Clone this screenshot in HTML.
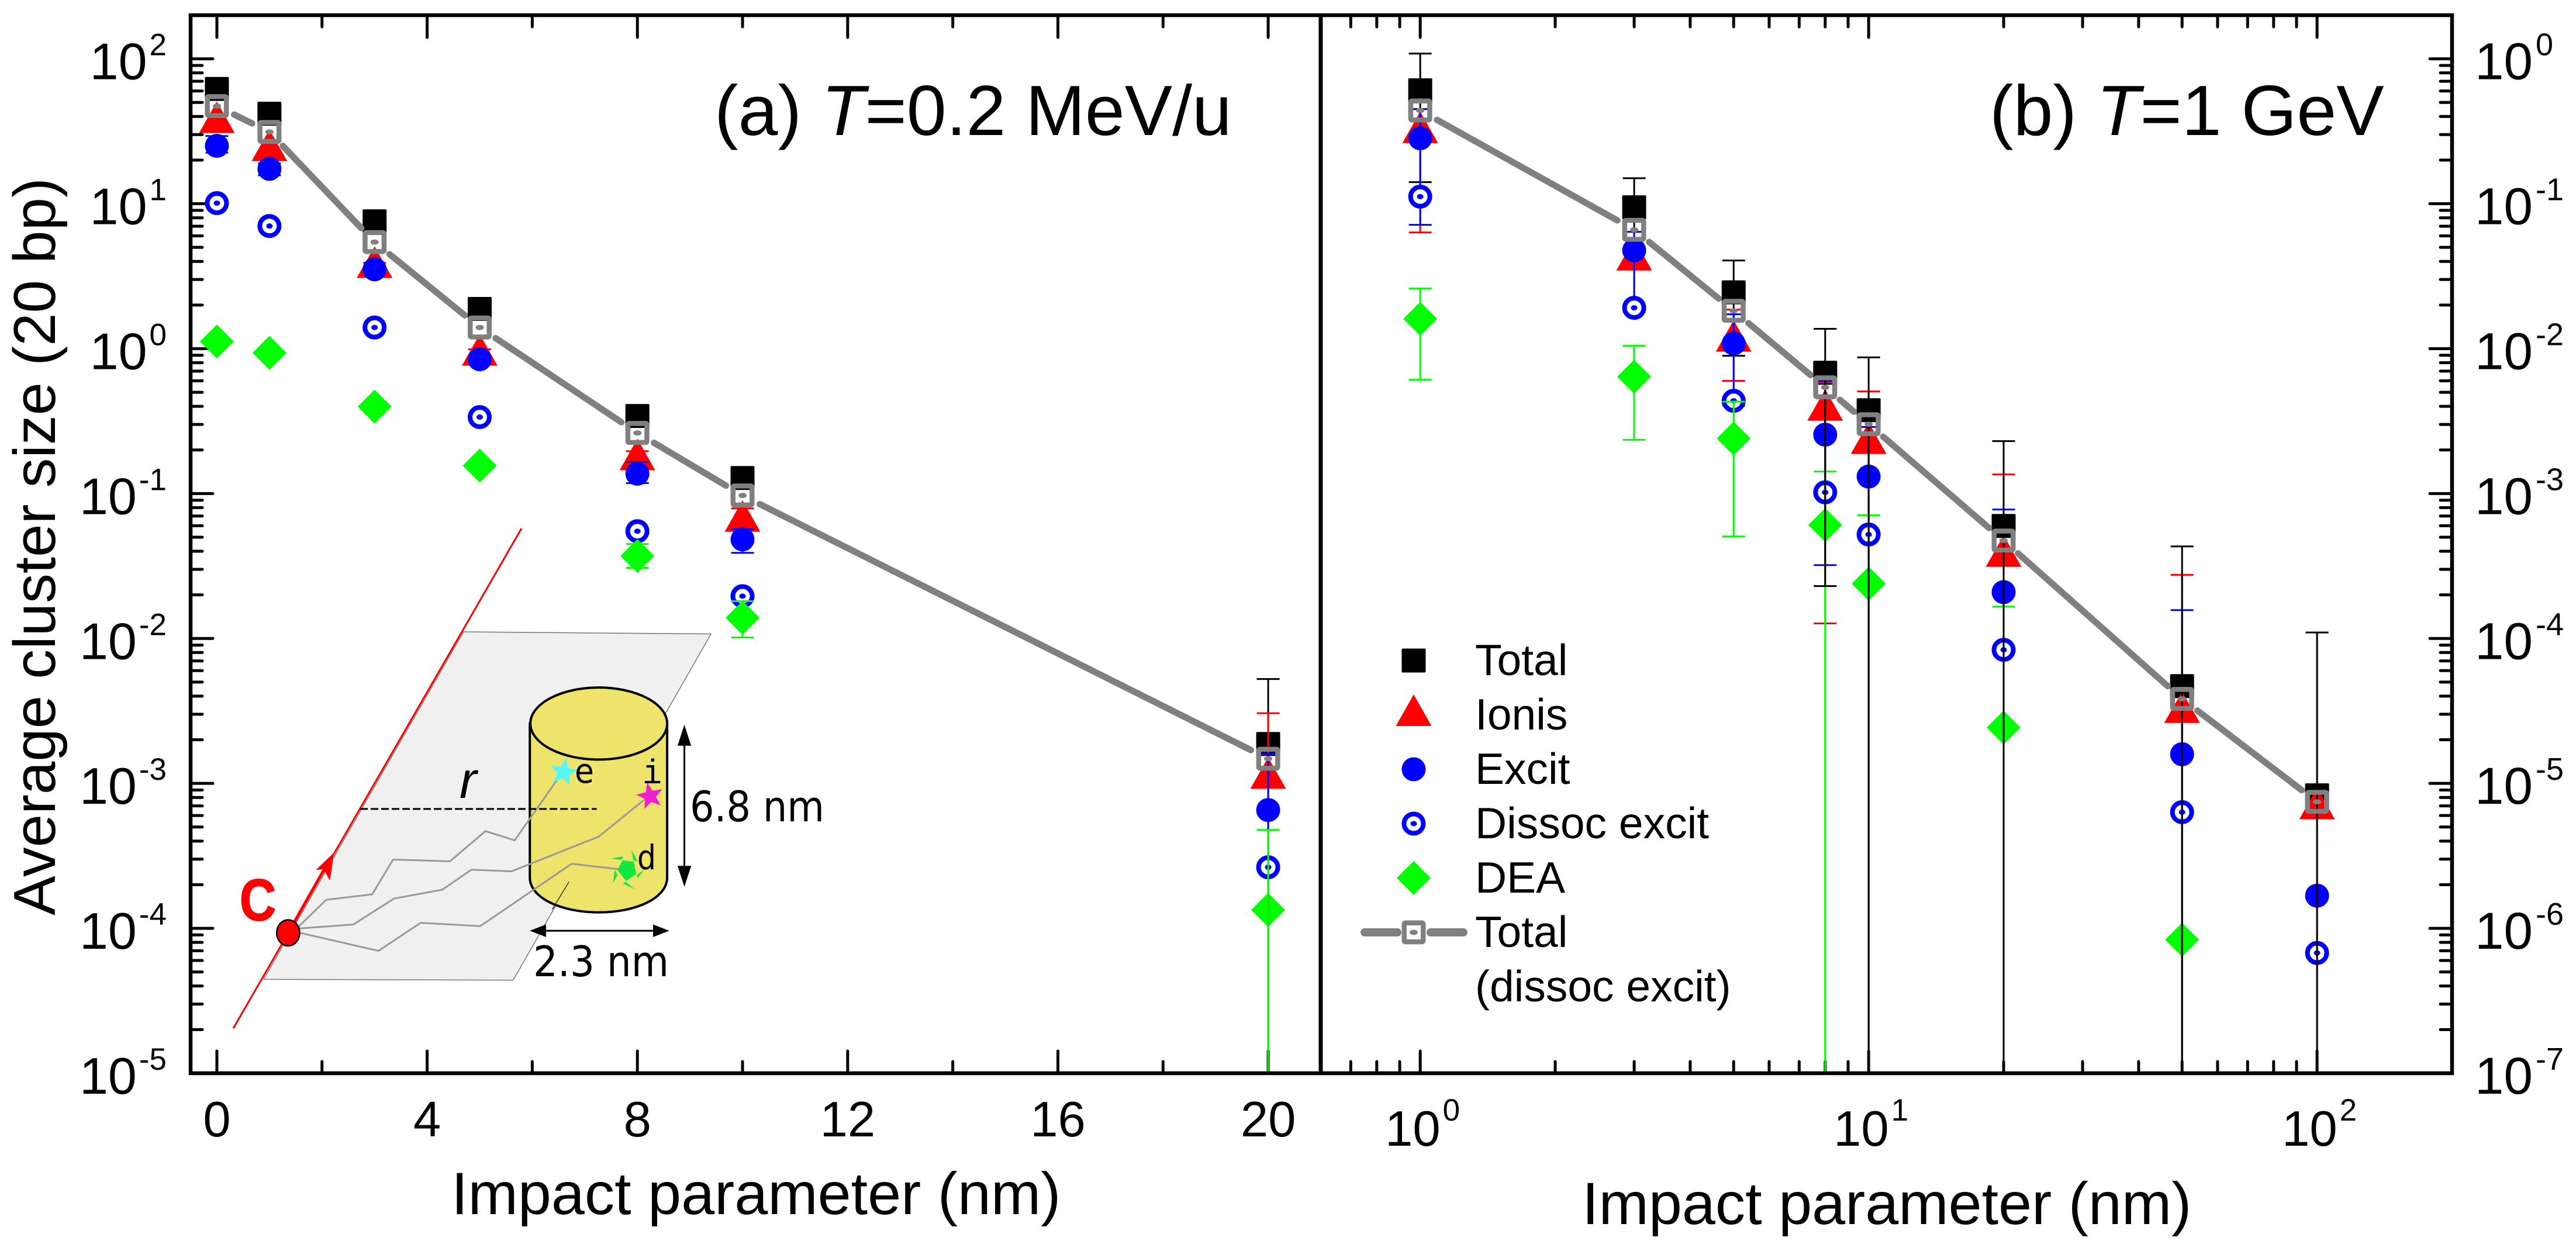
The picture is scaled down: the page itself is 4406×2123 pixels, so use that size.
<!DOCTYPE html>
<html lang="en">
<head>
<meta charset="utf-8">
<title>Average cluster size vs impact parameter</title>
<style>
html,body{margin:0;padding:0;background:#fff;}
svg{display:block;}
text{font-family:"Liberation Sans",Arial,sans-serif;fill:#000;}
.ins *{vector-effect:non-scaling-stroke;}
.dv{font-family:"DejaVu Sans","Liberation Sans",sans-serif;}
</style>
</head>
<body>
<svg id="chart" xmlns="http://www.w3.org/2000/svg" width="4406" height="2123" viewBox="0 0 4406 2123">
  <rect x="0" y="0" width="4406" height="2123" fill="#ffffff"/>

  <!-- Inset schematic -->
  <g>
    <g class="ins" transform="translate(0 1000) scale(0.89286 0.71618)">
      <polygon points="888,113 1362,118 983,945 505,943" fill="#f0f0f0" stroke="#777" stroke-width="1.5"/>
      <line x1="447" y1="1060" x2="999" y2="-134" stroke="#ff0000" stroke-width="3"/>
      <path d="M1015,332 V700 C1015,748 1074,783 1147,783 C1220,783 1278,748 1278,700 V332 Z" fill="#eee46b" stroke="#000" stroke-width="4"/>
      <ellipse cx="1147" cy="332" rx="131" ry="86" fill="#eee46b" stroke="#000" stroke-width="4"/>
      <line x1="1090" y1="710" x2="1058" y2="776" stroke="#333" stroke-width="1.5"/>
      <polyline points="568,822 625,753 713,740 753,657 862,661 930,589 986,611 1078,447" fill="none" stroke="#999" stroke-width="3"/>
      <polyline points="568,822 677,812 755,750 847,729 903,681 980,685 1147,602 1243,505" fill="none" stroke="#999" stroke-width="3"/>
      <polyline points="568,830 725,875 806,808 920,816 1095,667 1200,682" fill="none" stroke="#999" stroke-width="3"/>
      <line x1="690" y1="536" x2="1143" y2="536" stroke="#000" stroke-width="3" stroke-dasharray="13 5"/>
      <line x1="552" y1="832" x2="628" y2="665" stroke="#ff0000" stroke-width="5"/>
      <polygon points="640,640 605,682 620,680 632,707" fill="#ff0000"/>
      <ellipse cx="552" cy="832" rx="22" ry="31" fill="#ff0000" stroke="#000" stroke-width="2.5"/>
      <line x1="1311" y1="360" x2="1311" y2="700" stroke="#000" stroke-width="3"/>
      <polygon points="1311,335 1298,385 1324,385" fill="#000"/>
      <polygon points="1311,722 1298,672 1324,672" fill="#000"/>
      <line x1="1035" y1="827" x2="1262" y2="827" stroke="#000" stroke-width="3"/>
      <polygon points="1015,827 1046,812 1046,842" fill="#000"/>
      <polygon points="1282,827 1251,812 1251,842" fill="#000"/>
    </g>
    <polygon transform="translate(964 1321) rotate(10) scale(25)" points="0,-1 .247,-.34 .951,-.309 .4,.13 .588,.809 0,.42 -.588,.809 -.4,.13 -.951,-.309 -.247,-.34" fill="#55f8f8"/>
    <polygon transform="translate(1112 1362) rotate(-12) scale(24)" points="0,-1 .247,-.34 .951,-.309 .4,.13 .588,.809 0,.42 -.588,.809 -.4,.13 -.951,-.309 -.247,-.34" fill="#f020d0"/>
    <g fill="#10e840">
      <polygon points="1065,1471.7 1084,1474 1088.3,1495 1071,1507.3 1056,1488.3"/>
      <polygon points="1080,1454 1090.7,1474 1083.3,1471.7"/>
      <polygon points="1066,1465 1045,1469 1063.3,1471"/>
      <polygon points="1051.7,1488.3 1048.3,1511.7 1056,1496.7"/>
      <polygon points="1070,1508.3 1085,1520.7 1065.7,1511.7"/>
      <polygon points="1089.3,1496.7 1090,1502.7 1102.7,1487.3"/>
    </g>
    <text x="410" y="1574" font-size="100" font-weight="bold" style="fill:#ff0000;stroke:#ff0000;stroke-width:2" textLength="62" lengthAdjust="spacingAndGlyphs">C</text>
    <text x="786" y="1365" font-size="88" font-style="italic">r</text>
    <text class="dv" x="983" y="1339" font-size="58" textLength="33" lengthAdjust="spacingAndGlyphs">e</text>
    <text font-family="Liberation Mono" x="1099" y="1340" font-size="58" style="font-family:'Liberation Mono',monospace" textLength="33" lengthAdjust="spacingAndGlyphs">i</text>
    <text class="dv" x="1090" y="1487" font-size="58" textLength="32" lengthAdjust="spacingAndGlyphs">d</text>
    <text class="dv" x="1180" y="1405" font-size="72" textLength="230" lengthAdjust="spacingAndGlyphs">6.8 nm</text>
    <text class="dv" x="912" y="1670" font-size="72" textLength="232" lengthAdjust="spacingAndGlyphs">2.3 nm</text>
  </g>

  <g id="axes"></g>
  <g id="plots"></g>

  <g id="frame" fill="none" stroke="#000" stroke-width="6.5">
    <rect x="326" y="26" width="3868" height="1810"/>
    <line x1="2259" y1="26" x2="2259" y2="1836" stroke-width="7"/>
  </g>

  <text x="1222" y="231" font-size="122">(a) <tspan font-style="italic">T</tspan>=0.2 MeV/u</text>
  <text x="3403" y="231" font-size="122">(b) <tspan font-style="italic">T</tspan>=1 GeV</text>
  <text transform="translate(94 1566) rotate(-90)" font-size="101.5">Average cluster size (20 bp)</text>
  <text x="772" y="2077" font-size="102.5">Impact parameter (nm)</text>
  <text x="2706" y="2094" font-size="102.5">Impact parameter (nm)</text>

  <g id="legend"></g>
</svg>

<script>
// ---------- Data: panel (a) ----------
const leftImpact = [0, 1, 3, 5, 8, 10, 20];
const leftTotal = [62.0, 41.8, 7.56, 1.88, 0.343, 0.128, 1.87e-3];
const leftIonis = [39.5, 25.3, 3.95, 0.98, 0.186, 0.070, 1.18e-3];
const leftExcit = [25.1, 17.4, 3.53, 0.845, 0.137, 0.0483, 6.55e-4];
const leftDissoc = [10.1, 7.02, 1.40, 0.337, 0.055, 0.0196, 2.64e-4];
const leftDEA = [1.12, 0.935, 0.398, 0.156, 0.0371, 0.0139, 1.34e-4];
const leftTotalDissoc = [47.2, 31.3, 5.44, 1.40, 0.262, 0.097, 1.48e-3];

const leftTotalHi = [null, null, null, null, null, null, 5.25e-3];
const leftTotalLo = [null, null, null, null, null, null, 1e-9];
const leftIonisHi = [null, null, 3.91, 0.99, 0.196, 0.079, 3.05e-3];
const leftIonisLo = [null, null, 3.25, 0.79, 0.16, 0.06, 1e-9];
const leftExcitHi = [29.3, 19, null, null, 0.165, 0.0568, 1.6e-3];
const leftExcitLo = [22.5, 15.7, null, null, 0.118, 0.039, 1e-9];
const leftDEAHi = [null, null, null, null, 0.0449, 0.0181, 4.78e-4];
const leftDEALo = [null, null, null, null, 0.0307, 0.01016, 1e-9];

// ---------- Data: panel (b) ----------
const rightImpact = [1, 3, 5, 8, 10, 20, 50, 100];
const rightTotal = [0.606, 0.0945, 0.02446, 6.82e-3, 3.76e-3, 5.98e-4, 4.69e-5, 8.27e-6];
const rightIonis = [0.337, 0.0445, 0.01225, 4.09e-3, 2.41e-3, 4.01e-4, 3.36e-5, 7.26e-6];
const rightExcit = [0.283, 0.0477, 0.01085, 2.55e-3, 1.31e-3, 2.09e-4, 1.59e-5, 1.68e-6];
const rightDissoc = [0.112, 0.01913, 4.37e-3, 1.02e-3, 5.22e-4, 8.35e-5, 6.33e-6, 6.76e-7];
const rightDEA = [0.01606, 6.41e-3, 2.40e-3, 6.06e-4, 2.39e-4, 2.43e-5, 8.34e-7, null];
const rightTotalDissoc = [0.44, 0.0661, 0.01826, 5.41e-3, 3.01e-3, 4.74e-4, 3.83e-5, 7.46e-6];

const rightTotalHi = [1.087, 0.150, 0.0406, 0.0137, 8.71e-3, 2.30e-3, 4.32e-4, 1.10e-4];
const rightTotalLo = [0.1409, 0.04, 8.93e-3, 2.30e-4, 1e-9, 1e-9, 1e-9, 1e-9];
const rightIonisHi = [0.45, 0.064, 0.0186, 5.83e-3, 5.07e-3, 1.355e-3, 2.75e-4, 1.10e-4];
const rightIonisLo = [0.0634, 0.0179, 0.006, 1.27e-4, 1e-9, 1e-9, 1e-9, 1e-9];
const rightExcitHi = [0.45, 0.064, 0.01727, 5.99e-3, 2.88e-3, 7.76e-4, 1.57e-4, null];
const rightExcitLo = [0.0715, 0.0181, 4.05e-3, 3.21e-4, 1e-9, 1e-9, 1e-9, null];
const rightDEAHi = [0.026, 0.01046, 4.31e-3, 1.42e-3, 7.09e-4, 1.66e-4, null, null];
const rightDEALo = [6.1e-3, 2.35e-3, 5.06e-4, 1e-9, 1e-9, null, null, null];

// ---------- Tick values ----------
const leftXMajor = [0, 4, 8, 12, 16, 20];
const leftXMinor = [2, 6, 10, 14, 18];
const leftXLabels = ['0', '4', '8', '12', '16', '20'];
const rightXDecades = [0, 1, 2];
const rightXMinorBelowOne = [0.7, 0.8, 0.9];
const leftYDecades = [2, 1, 0, -1, -2, -3, -4, -5];
const rightYDecades = [0, -1, -2, -3, -4, -5, -6, -7];
const legendLabels = ['Total', 'Ionis', 'Excit', 'Dissoc excit', 'DEA', 'Total'];

// ---------- Scales ----------
const TOP = 26, BOTTOM = 1836, LEFT = 326, MID = 2259, RIGHT = 4194;
function linearScale(d0, d1, r0, r1) { return function (v) { return r0 + (v - d0) / (d1 - d0) * (r1 - r0); }; }
function logScale(d0, d1, r0, r1) { return function (v) { return r0 + (Math.log10(v) - Math.log10(d0)) / (Math.log10(d1) - Math.log10(d0)) * (r1 - r0); }; }
const xLeft = linearScale(-0.5, 21, LEFT, MID);
const xRight = logScale(0.6, 200, MID, RIGHT);
const yLeft = logScale(1e-5, 200, BOTTOM, TOP);
const yRight = logScale(1e-7, 2, BOTTOM, TOP);

const SVGNS = 'http://www.w3.org/2000/svg';
function add(parent, tag, attrs) {
  const el = document.createElementNS(SVGNS, tag);
  for (const k in attrs) el.setAttribute(k, attrs[k]);
  parent.appendChild(el);
  return el;
}

// ---------- Marker shapes ----------
function drawSquare(p, cx, cy) {
  const el = add(p, 'rect', { x: cx - 20.5, y: cy - 20.5, width: 41, height: 41, rx: 2, fill: '#000' });
  
  
}
function drawTriangle(p, cx, cy) {
  const el = add(p, 'polygon', { points: (cx) + ',' + (cy - 27) + ' ' + (cx + 30.5) + ',' + (cy + 27) + ' ' + (cx - 30.5) + ',' + (cy + 27), fill: '#ff0000' });
  
  
}
function drawCircle(p, cx, cy) {
  const el = add(p, 'circle', { cx: cx, cy: cy, r: 20.5, fill: '#0000ff' });
  
  
}
function drawRing(p, cx, cy) {
  const el = add(p, 'circle', { cx: cx, cy: cy, r: 16.5, fill: '#fff', stroke: '#0000ff', 'stroke-width': 8 });
  
  
  const dot = add(p, 'ellipse', { cx: cx, cy: cy, rx: 5.5, ry: 4.5, fill: '#0000ff' });
  
  
}
function drawDiamond(p, cx, cy) {
  const el = add(p, 'polygon', { points: cx + ',' + (cy - 29) + ' ' + (cx + 29) + ',' + cy + ' ' + cx + ',' + (cy + 29) + ' ' + (cx - 29) + ',' + cy, fill: '#00ff00' });
  
  
}
function drawOpenSquare(p, cx, cy) {
  const el = add(p, 'rect', { x: cx - 16.25, y: cy - 16.25, width: 32.5, height: 32.5, rx: 2, fill: 'none', stroke: '#808080', 'stroke-width': 8.5 });
  
  
  const dot = add(p, 'ellipse', { cx: cx, cy: cy, rx: 7, ry: 4.5, fill: '#808080' });
  
  
}

// ---------- Error bars ----------
function drawError(p, x, y, hi, lo, color) {
  const cx = x;
  const yHi = hi === null ? null : y(hi);
  const yLo = lo === null ? null : y(lo);
  const top = yHi === null ? null : yHi;
  const bot = yLo === null ? null : Math.min(yLo, BOTTOM);
  if (top === null && bot === null) return;
  const stem = add(p, 'line', { x1: cx, x2: cx, y1: top === null ? bot : top, y2: bot === null ? top : bot, stroke: color, 'stroke-width': 3 });
  
  
  if (top !== null) {
    const capT = add(p, 'line', { x1: cx - 19.5, x2: cx + 19.5, y1: top, y2: top, stroke: color, 'stroke-width': 3 });
    
    
  }
  if (yLo !== null && yLo < BOTTOM) {
    const capB = add(p, 'line', { x1: cx - 19.5, x2: cx + 19.5, y1: yLo, y2: yLo, stroke: color, 'stroke-width': 3 });
    
    
  }
}

// ---------- Panels ----------
function drawPanel(name, xs, xScale, yScale, series, frontOrder, lineValues) {
  const root = document.getElementById('plots');
  const g = add(root, 'g', {});
  
  
  const front = [];
  series.forEach(function (s) {
    xs.forEach(function (xv, i) {
      const v = s.values[i];
      if (v === null) return;
      const hi = s.hi ? s.hi[i] : null;
      const lo = s.lo ? s.lo[i] : null;
      const isFront = lo !== null && Math.log10(v / lo) > 1;
      if (isFront) { front.push({ key: s.key, x: xScale(xv), hi: hi, lo: lo, color: s.color }); return; }
      drawError(g, xScale(xv), yScale, hi, lo, s.color);
    });
    xs.forEach(function (xv, i) {
      const v = s.values[i];
      if (v === null) return;
      s.draw(g, xScale(xv), yScale(v));
    });
  });
  frontOrder.forEach(function (key) {
    front.filter(function (f) { return f.key === key; }).forEach(function (f) {
      drawError(g, f.x, yScale, f.hi, f.lo, f.color);
    });
  });
  for (let i = 0; i < xs.length - 1; i++) {
    const x0 = xScale(xs[i]), y0 = yScale(lineValues[i]);
    const x1 = xScale(xs[i + 1]), y1 = yScale(lineValues[i + 1]);
    const len = Math.hypot(x1 - x0, y1 - y0), gap = 33;
    if (len <= 2 * gap) continue;
    const ux = (x1 - x0) / len, uy = (y1 - y0) / len;
    const seg = add(g, 'line', { x1: x0 + ux * gap, y1: y0 + uy * gap, x2: x1 - ux * gap, y2: y1 - uy * gap, stroke: '#808080', 'stroke-width': 11, 'stroke-linecap': 'round' });
    
    
  }
  xs.forEach(function (xv, i) { drawOpenSquare(g, xScale(xv), yScale(lineValues[i])); });
}

drawPanel('panel-a', leftImpact, xLeft, yLeft, [
  { key: 'total', values: leftTotal, hi: leftTotalHi, lo: leftTotalLo, color: '#000', draw: drawSquare },
  { key: 'ionis', values: leftIonis, hi: leftIonisHi, lo: leftIonisLo, color: '#ff0000', draw: drawTriangle },
  { key: 'excit', values: leftExcit, hi: leftExcitHi, lo: leftExcitLo, color: '#0000ff', draw: drawCircle },
  { key: 'dissoc', values: leftDissoc, hi: null, lo: null, color: '#0000ff', draw: drawRing },
  { key: 'dea', values: leftDEA, hi: leftDEAHi, lo: leftDEALo, color: '#00ff00', draw: drawDiamond }
], ['total', 'ionis', 'excit', 'dea'], leftTotalDissoc);

drawPanel('panel-b', rightImpact, xRight, yRight, [
  { key: 'total', values: rightTotal, hi: rightTotalHi, lo: rightTotalLo, color: '#000', draw: drawSquare },
  { key: 'ionis', values: rightIonis, hi: rightIonisHi, lo: rightIonisLo, color: '#ff0000', draw: drawTriangle },
  { key: 'excit', values: rightExcit, hi: rightExcitHi, lo: rightExcitLo, color: '#0000ff', draw: drawCircle },
  { key: 'dissoc', values: rightDissoc, hi: null, lo: null, color: '#0000ff', draw: drawRing },
  { key: 'dea', values: rightDEA, hi: rightDEAHi, lo: rightDEALo, color: '#00ff00', draw: drawDiamond }
], ['ionis', 'excit', 'dea', 'total'], rightTotalDissoc);

// ---------- Axes ----------
const axesG = document.getElementById('axes');
const MAJOR = 38, MINOR = 20;
function xTick(x, len) {
  [[BOTTOM, BOTTOM - len], [TOP, TOP + len]].forEach(function (pair) {
    const t = add(axesG, 'line', { x1: x, x2: x, y1: pair[0], y2: pair[1], stroke: '#000', 'stroke-width': 5, 'stroke-linecap': 'round' });
    
    
  });
}
function yTick(x0, dir, y, len) {
  const t = add(axesG, 'line', { x1: x0, x2: x0 + dir * len, y1: y, y2: y, stroke: '#000', 'stroke-width': 5, 'stroke-linecap': 'round' });
  
  
}
function powerLabel(x, y, exp, anchor, size, supSize, rise, gap) {
  const t = add(axesG, 'text', { x: x, y: y, 'font-size': size, 'text-anchor': anchor });
  
  
  t.appendChild(document.createTextNode('10'));
  const s = add(t, 'tspan', { dy: -rise, 'font-size': supSize, dx: gap });
  s.textContent = String(exp);
}

leftXMajor.forEach(function (v, i) {
  xTick(xLeft(v), MAJOR);
  const t = add(axesG, 'text', { x: xLeft(v), y: 1944, 'font-size': 85, 'text-anchor': 'middle' });
  
  
  t.textContent = leftXLabels[i];
});
leftXMinor.forEach(function (v) { xTick(xLeft(v), MINOR); });

rightXMinorBelowOne.forEach(function (v) { xTick(xRight(v), MINOR); });
rightXDecades.forEach(function (e) {
  const base = Math.pow(10, e);
  xTick(xRight(base), MAJOR);
  if (e < 2) for (let m = 2; m <= 9; m++) xTick(xRight(m * base), MINOR);
  powerLabel(xRight(base) + 4, 1960, e, 'middle', 85, 53, 43, 4);
});

leftYDecades.forEach(function (e) {
  const base = Math.pow(10, e);
  yTick(LEFT, 1, yLeft(base), MAJOR);
  if (e < 2) for (let m = 2; m <= 9; m++) yTick(LEFT, 1, yLeft(m * base), MINOR);
  powerLabel(285, yLeft(base) + 35, e, 'end', 88, 53, 41, 4);
});
rightYDecades.forEach(function (e) {
  const base = Math.pow(10, e);
  yTick(RIGHT, -1, yRight(base), MAJOR);
  if (e < 0) for (let m = 2; m <= 9; m++) yTick(RIGHT, -1, yRight(m * base), MINOR);
  powerLabel(4233, yRight(base) + 35, e, 'start', 89, 54, 41, 5);
});

// ---------- Legend ----------
const legendG = document.getElementById('legend');
const legendDrawers = [drawSquare, drawTriangle, drawCircle, drawRing, drawDiamond, drawOpenSquare];
legendLabels.forEach(function (label, i) {
  const cy = 1130 + i * 93;
  const entry = add(legendG, 'g', {});
  
  
  if (i === 5) {
    [[2334, 2390], [2447, 2503]].forEach(function (r) {
      const l = add(entry, 'line', { x1: r[0], x2: r[1], y1: cy, y2: cy, stroke: '#808080', 'stroke-width': 14, 'stroke-linecap': 'round' });
      
      
    });
  }
  legendDrawers[i](entry, 2418, i === 1 ? cy - 8 : cy);
  const t = add(entry, 'text', { x: 2523, y: cy + 25, 'font-size': 75 });
  
  
  t.textContent = label;
});
const legendExtra = add(legendG, 'text', { x: 2523, y: 1713, 'font-size': 75 });


legendExtra.textContent = '(dissoc excit)';
</script>
</body>
</html>
